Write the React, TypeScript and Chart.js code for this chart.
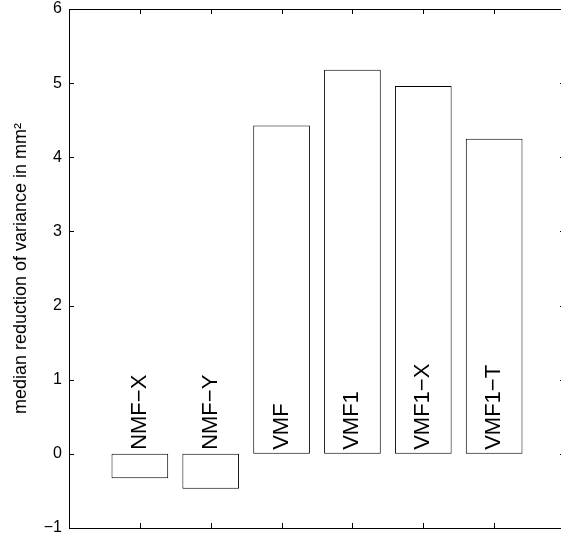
import React, { useEffect, useRef } from 'react';
import { Chart, registerables } from 'chart.js';

Chart.register(...registerables);

const categories = ['NMF\u2212X', 'NMF\u2212Y', 'VMF', 'VMF1', 'VMF1\u2212X', 'VMF1\u2212T'];
const positions = [1, 2, 3, 4, 5, 6];
const values = [-0.33, -0.47, 4.43, 5.18, 4.96, 4.25];
const yTicks = [-1, 0, 1, 2, 3, 4, 5, 6];
const xTicks = [1, 2, 3, 4, 5, 6];
const yLabel = 'median reduction of variance in mm\u00B2';

const FONT = '"Liberation Sans", Arial, Helvetica, sans-serif';

const matlabPlugin = {
  id: 'matlabBox',
  afterDraw(chart: any) {
    const { ctx, chartArea } = chart;
    const { left, right, top, bottom } = chartArea;
    const xs = chart.scales.x;
    const ys = chart.scales.y;
    ctx.save();
    ctx.strokeStyle = '#000';
    ctx.lineWidth = 1;
    ctx.beginPath();
    ctx.rect(Math.round(left) + 0.5, Math.round(top) + 0.5, Math.round(right - left), Math.round(bottom - top));
    ctx.stroke();
    const tl = 5;
    ctx.beginPath();
    yTicks.forEach((v) => {
      const y = Math.round(ys.getPixelForValue(v)) + 0.5;
      ctx.moveTo(left, y);
      ctx.lineTo(left + tl, y);
      ctx.moveTo(right, y);
      ctx.lineTo(right - tl, y);
    });
    xTicks.forEach((v) => {
      const x = Math.round(xs.getPixelForValue(v)) + 0.5;
      ctx.moveTo(x, bottom);
      ctx.lineTo(x, bottom - tl);
      ctx.moveTo(x, top);
      ctx.lineTo(x, top + tl);
    });
    ctx.stroke();

    // bar labels
    const meta = chart.getDatasetMeta(0);
    const y0 = ys.getPixelForValue(0);
    ctx.fillStyle = '#000';
    ctx.font = `22px ${FONT}`;
    ctx.textAlign = 'left';
    ctx.textBaseline = 'middle';
    meta.data.forEach((bar: any, i: number) => {
      ctx.save();
      ctx.translate(bar.x, y0 - 4);
      ctx.rotate(-Math.PI / 2);
      ctx.fillText(categories[i], 0, 0);
      ctx.restore();
    });

    // y axis label
    ctx.font = `18px ${FONT}`;
    ctx.textAlign = 'center';
    ctx.textBaseline = 'alphabetic';
    ctx.save();
    ctx.translate(26, (top + bottom) / 2);
    ctx.rotate(-Math.PI / 2);
    ctx.fillText(yLabel, 0, 0);
    ctx.restore();
    ctx.restore();
  },
};

export default function App() {
  const ref = useRef<HTMLCanvasElement | null>(null);
  useEffect(() => {
    if (!ref.current) return;
    const chart = new Chart(ref.current, {
      type: 'bar',
      data: {
        datasets: [
          {
            data: positions.map((x, i) => ({ x, y: values[i] })),
            backgroundColor: '#ffffff',
            borderColor: '#000000',
            borderWidth: 1,
            borderSkipped: false,
            categoryPercentage: 1,
            barPercentage: 0.8,
          } as any,
        ],
      },
      options: {
        animation: false,
        responsive: false,
        devicePixelRatio: 1,
        layout: { padding: { top: 9, right: 15, bottom: 11, left: 0 } },
        plugins: { legend: { display: false }, tooltip: { enabled: false } },
        scales: {
          x: {
            type: 'linear',
            min: 0,
            max: 7,
            offset: false,
            display: false,
          },
          y: {
            type: 'linear',
            min: -1,
            max: 6,
            grid: { display: false, drawTicks: false },
            border: { display: false },
            ticks: {
              stepSize: 1,
              padding: 7,
              color: '#000',
              font: { family: FONT, size: 16 },
              callback: (v: any) => (v < 0 ? '\u2212' + Math.abs(v) : String(v)),
            },
            afterFit: (s: any) => {
              s.width = 69;
              s.paddingTop = 0;
              s.paddingBottom = 0;
            },
          },
        },
      },
      plugins: [matlabPlugin],
    });
    return () => chart.destroy();
  }, []);
  return (
    <div
      style={{
        position: 'fixed',
        left: 0,
        top: 0,
        width: 561,
        height: 539,
        overflow: 'hidden',
        background: '#fff',
      }}
    >
      <canvas ref={ref} width={580} height={539} style={{ width: 580, height: 539, display: 'block' }} />
    </div>
  );
}
